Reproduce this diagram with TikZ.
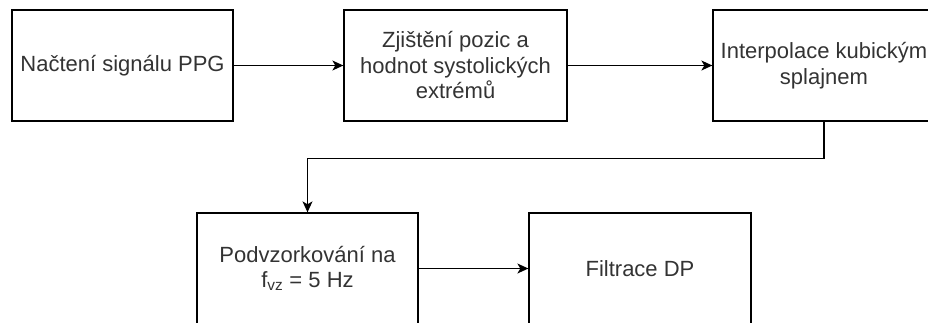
\documentclass[tikz,border=0pt]{standalone}
\usepackage{fontspec}
\setmainfont{Liberation Sans}
\usetikzlibrary{arrows.meta}
\definecolor{txt}{HTML}{333333}
\begin{document}
\begin{tikzpicture}[x=1pt,y=-1pt,
  box/.style={draw=black, line width=1.3pt, minimum height=111pt, inner sep=0pt,
    align=center, text=txt, font=\fontsize{22}{25.5}\selectfont},
  conn/.style={line width=1.3pt, -{Stealth[length=11pt,width=10pt,inset=3pt]}}]
\clip (0,0) rectangle (928,322);
\node[box, minimum width=221pt] (a) at (122.5,65.5) {Načtení signálu PPG};
\node[box, minimum width=223pt] (b) at (455.5,65.5) {Zjištění pozic a\\hodnot systolických\\extrémů};
\node[box, minimum width=222pt] (c) at (824,65.5) {Interpolace kubickým\\splajnem};
\node[box, minimum width=221pt] (d) at (307.5,268.5) {Podvzorkování na\\f\textsubscript{vz} = 5 Hz};
\node[box, minimum width=222pt] (e) at (640,268.5) {Filtrace DP};
\draw[conn] (a) -- (b);
\draw[conn] (b) -- (c);
\draw[conn] (c.south) -- ++(0,37) -| (d.north);
\draw[conn] (d) -- (e);
\end{tikzpicture}
\end{document}
